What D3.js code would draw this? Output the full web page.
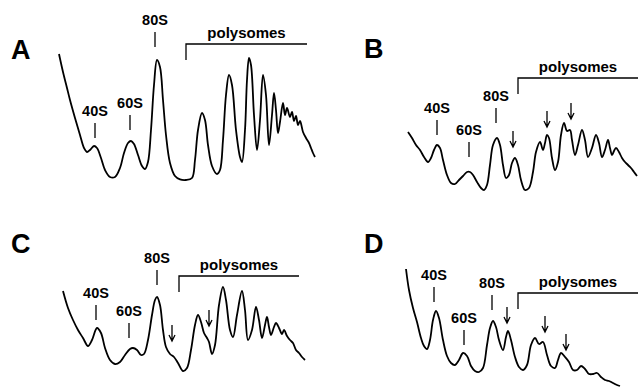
<!DOCTYPE html>
<html>
<head>
<meta charset="utf-8">
<script src="https://cdn.jsdelivr.net/npm/d3@7"></script>
<style>
  body { margin: 0; background: #fff; }
  text { font-family: "Liberation Sans", Arial, sans-serif; font-weight: bold; fill: #000; }
</style>
</head>
<body>
<svg id="fig" width="643" height="387"></svg>
<script>
// A254 traces: [gradient position, absorbance] (arbitrary units)
const profileA = [[1.5,63],[3.5,54],[5.5,46],[7,40],[9.5,31],[12,22.5],[14,16],[15.5,14],[17,15],[19,17],[20.5,16],[22.5,11],[24.5,5],[27,1.5],[29.5,1.5],[32,6],[34,13.5],[36,18.5],[37.5,19.5],[39,18],[41,12.5],[43,7],[44.5,5.5],[46,9],[47.5,25],[49,47.5],[50.5,60],[52,56.5],[53.5,40],[55,22.5],[57,8.5],[59.5,2],[62,0.3],[65,0],[68,1],[69.5,10],[71,25],[73,33.5],[74.5,30],[76,17.5],[78,7],[80.5,3],[82,5],[83.5,20],[85,42.5],[86.5,52.5],[88,47.5],[90,25],[92,11.5],[93,9],[94.5,25],[95.5,50],[96.5,61],[97.5,57.5],[99,32.5],[100.5,15],[102,30],[103.5,52.5],[105,42.5],[106.5,17.5],[108,32.5],[109,43.5],[110,35],[111,23.5],[112,29],[113.5,38.5],[114.5,32.5],[115.5,36],[117,31.5],[118,34],[119,29.5],[120,32],[121,27.5],[122,29.5],[123.5,24],[125,21],[126.5,18.5],[127.5,16],[128.5,13.5],[129.5,11.5]];
const profileB = [[1,31.5],[3,28.5],[5,25],[7,22.5],[9,19],[11,16.5],[12.5,18.5],[14,22.5],[15.5,25],[17,23.5],[18.5,17.5],[20.5,10],[22.5,6],[24.5,5.5],[26.5,7.5],[28.5,9.5],[30.5,11.5],[32,11.5],[33.5,10],[35.5,6.5],[37.5,3.5],[39,2.5],[40.5,5],[42,15],[43.5,25],[45.5,28.5],[47,25],[48.5,15],[50,8.5],[51.5,10],[53,16],[54.5,18.5],[56,15],[57.5,7.5],[59.5,2.5],[61.5,3.5],[63.5,11.5],[65,21.5],[67,26.5],[68.5,22.5],[69.5,26],[70.5,30],[71.5,28.5],[73,18.5],[74.5,12.5],[76,16.5],[77.5,30],[79,36],[80.5,32],[82,32.5],[83,27.5],[84.5,20],[86,25],[88,32.5],[89.5,27.5],[91,19],[93,23.5],[95,30],[96.5,26],[98,19],[99.5,22.5],[101,27.5],[102,23.5],[103,20],[104,22],[105,23.5],[106.5,21.5],[108,18.5],[109.5,16.5],[111,15],[112.5,13.5],[114,11.5],[115.5,9.5]];
const profileC = [[1.5,42],[4,33.5],[6.5,27.5],[9,22.5],[11.5,18.5],[14,14.5],[16,17.5],[18.5,23.5],[20.5,21],[22.5,13.5],[25,7.5],[27.5,5.5],[30,6.5],[32.5,10],[35,13],[36.5,13.5],[38.5,12.5],[40.5,10],[42,10.5],[44,17.5],[46,30],[47.5,37.5],[48.5,39],[50,35],[51.5,22.5],[53,14],[55,10.5],[57,9],[59,6],[61.5,2],[63.5,3.5],[65.5,12.5],[67.5,25],[69,30],[70.5,26.5],[72,21],[73.5,18.5],[74.5,16.5],[76,10.5],[77.5,15],[79.5,35],[81.5,44],[83,37.5],[85,22.5],[86.5,19],[88.5,30],[91,42],[92.5,32.5],[94,17.5],[96,22.5],[98,34],[99.5,27.5],[101,18.5],[102.5,25],[103.5,29],[104.5,24],[105.5,20],[107,24],[108,26],[109.5,23.5],[111,20.5],[112,22.5],[113.5,19.5],[115,17.5],[116.5,16],[118,12.5],[119.5,11],[121,9],[122.5,7.5]];
const profileD = [[1,60.5],[2.5,50],[4.5,41],[6.5,34],[8.5,26],[10,22],[11.5,20.5],[13,25],[14.5,35],[16,39.5],[17.5,36],[19.5,25],[21.5,17],[23.5,13.5],[25.5,12.5],[27.5,15],[29.5,18.5],[31.5,17],[33.5,12],[35.5,9.5],[37.5,9],[39.5,11],[41.5,22.5],[43,31],[44.5,34.5],[46,31.5],[47.5,25],[49.5,20],[51,26.5],[52,29.5],[53.5,25],[55.5,16.5],[57.5,11.5],[59.5,10],[61.5,12.5],[63.5,22.5],[65.5,26],[67.5,23],[69.5,24],[71.5,17.5],[73.5,12],[75.5,11],[77,15],[78.5,18.5],[80.5,16.5],[82.5,14],[84.5,10],[86.5,10],[88.5,12],[90.5,10.5],[92.5,8],[94.5,8],[96.5,8.5],[98.5,6.5],[100.5,5],[102.5,4.5],[104.5,3.5],[106.5,2.5],[108,2]];

// peak labels: [name, position, absorbance at tick foot]
const peaksA = [["40S",19.5,21],["60S",37,25],["80S",49.5,66.5]];
const peaksB = [["40S",15.5,30],["60S",31.5,19],["80S",45,36]];
const peaksC = [["40S",18,27.5],["60S",34.5,18.5],["80S",48.5,45]];
const peaksD = [["40S",15,44],["60S",30,22.5],["80S",44,40]];

// polysome bracket: [start, end, level]
const bracketA = [65,125.5,68];
const bracketB = [56,116,58.5];
const bracketC = [59.5,119.5,49.5];
const bracketD = [57,117,48.5];

// arrows (halfmers): [position, tip absorbance]
const arrowsA = [];
const arrowsB = [[53.5,24],[70.5,34],[82.5,38]];
const arrowsC = [[56,17],[74.5,24.5]];
const arrowsD = [[51.5,33.5],[70.5,29],[81,20]];

const panelNames = ["A","B","C","D"];

const svg = d3.select("#fig");

const x = d3.scaleLinear().domain([0, 130]).range([0, 260]);
const y = d3.scaleLinear().domain([0, 70]).range([0, -140]);

const line = d3.line()
  .x(d => x(d[0]))
  .y(d => y(d[1]))
  .curve(d3.curveCatmullRom.alpha(0.5));

function drawPanel(name, letterPos, origin, profile, peaks, bracket, arrows) {
  svg.append("text")
    .attr("x", letterPos[0])
    .attr("y", letterPos[1])
    .style("font-size", "27px")
    .text(name);

  const g = svg.append("g")
    .attr("transform", "translate(" + origin[0] + "," + origin[1] + ")");

  // trace
  g.append("path")
    .datum(profile)
    .attr("fill", "none")
    .attr("stroke", "#000")
    .attr("stroke-width", 1.8)
    .attr("stroke-linejoin", "round")
    .attr("d", line);

  // peak ticks + labels
  const pk = g.selectAll(".peak")
    .data(peaks)
    .enter()
    .append("g");
  pk.append("line")
    .attr("x1", d => x(d[1]))
    .attr("x2", d => x(d[1]))
    .attr("y1", d => y(d[2]))
    .attr("y2", d => y(d[2]) - 15)
    .attr("stroke", "#000")
    .attr("stroke-width", 1.3);
  pk.append("text")
    .attr("x", d => x(d[1]))
    .attr("y", d => y(d[2]) - 22)
    .attr("text-anchor", "middle")
    .style("font-size", "14.5px")
    .text(d => d[0]);

  // polysomes bracket
  g.append("path")
    .attr("fill", "none")
    .attr("stroke", "#000")
    .attr("stroke-width", 1.3)
    .attr("d", "M" + x(bracket[0]) + "," + (y(bracket[2]) + 16) +
      "V" + y(bracket[2]) + "H" + x(bracket[1]));
  g.append("text")
    .attr("x", (x(bracket[0]) + x(bracket[1])) / 2)
    .attr("y", y(bracket[2]) - 6)
    .attr("text-anchor", "middle")
    .style("font-size", "15px")
    .text("polysomes");

  // arrows
  g.selectAll(".arrow")
    .data(arrows)
    .enter()
    .append("path")
    .attr("fill", "none")
    .attr("stroke", "#000")
    .attr("stroke-width", 1.3)
    .attr("d", d => {
      const ax = x(d[0]), ay = y(d[1]);
      return "M" + ax + "," + (ay - 16) + "V" + ay +
        "M" + (ax - 3) + "," + (ay - 6) + "L" + ax + "," + ay + "L" + (ax + 3) + "," + (ay - 6);
    });
}

drawPanel(panelNames[0], [11, 59], [56, 180], profileA, peaksA, bracketA, arrowsA);
drawPanel(panelNames[1], [364, 58], [406, 195], profileB, peaksB, bracketB, arrowsB);
drawPanel(panelNames[2], [11, 253], [60, 375], profileC, peaksC, bracketC, arrowsC);
drawPanel(panelNames[3], [364, 253], [404, 390], profileD, peaksD, bracketD, arrowsD);
</script>
</body>
</html>
